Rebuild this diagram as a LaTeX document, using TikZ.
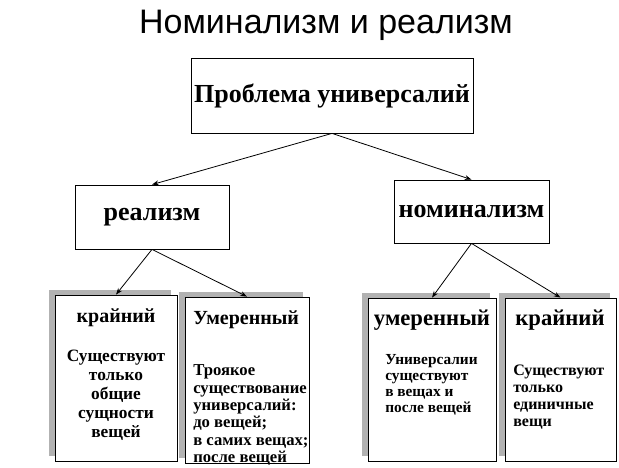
\documentclass[tikz,border=0pt]{standalone}
\usepackage{fontspec}
\setmainfont{Liberation Serif}
\newfontfamily\titlefont{Liberation Sans}
\usetikzlibrary{arrows.meta}
\usetikzlibrary{backgrounds}

\tikzset{
  box/.style={draw=black, fill=white, line width=0.6pt, inner sep=0pt},
  head/.style={font=\bfseries\fontsize{19.5}{22}\selectfont, inner sep=0.75pt},
  sub/.style={font=\bfseries\fontsize{15}{17}\selectfont, inner sep=0.75pt},
  body/.style={inner sep=0.75pt},
  link/.style={line width=0.6pt, -{Stealth[length=5pt,width=3.6pt]}},
  shade/.style={fill=black!30}
}

\begin{document}
\begin{tikzpicture}[x=0.75pt,y=0.75pt,yscale=-1,xscale=1]
\useasboundingbox (0,0) rectangle (619,468);

% Title
\node [anchor=base, inner sep=0pt, font=\titlefont\fontsize{25.5}{28}\selectfont] (title) at (326,33) {Номинализм и реализм};

% Upper boxes
\node [box, head, minimum width=211.5pt, minimum height=56.25pt] (problem) at (332,95.5) {Проблема универсалий};
\node [box, head, minimum width=115.5pt, minimum height=48pt] (realism) at (152,217) {реализм};
\node [box, head, minimum width=116.25pt, minimum height=47.25pt] (nominal) at (471.5,211.5) {номинализм};

% Lower boxes
\node [box, minimum width=91.5pt, minimum height=124.5pt] (rextreme) at (116,378) {};
\node [box, minimum width=93pt, minimum height=124.5pt] (rmoderate) at (247,380) {};
\node [box, minimum width=96pt, minimum height=122.25pt] (nmoderate) at (432,379.5) {};
\node [box, minimum width=83.25pt, minimum height=122.25pt] (nextreme) at (560.5,379.5) {};

% Shadows
\begin{scope}[on background layer]
\foreach \b in {rextreme,rmoderate,nmoderate,nextreme}
  \fill [shade] ([shift={(-6,-5)}]\b.north west) rectangle ([shift={(-6,-5)}]\b.south east);
\end{scope}

% Connectors
\draw [link] (problem.south) -- (realism.north);
\draw [link] (problem.south) -- (nominal.north);
\draw [link] (realism.south) -- (rextreme.north);
\draw [link] (realism.south) -- (rmoderate.north);
\draw [link] (nominal.south) -- (nmoderate.north);
\draw [link] (nominal.south) -- (nextreme.north);

% Text Node
\node [sub] (rextremehead) at (116,318) {крайний};
\node [body, align=center, font=\bfseries\fontsize{13}{14.25}\selectfont] (rextremetext) at (116,395) {Существуют\\только\\общие\\сущности\\вещей};
% Text Node
\node [sub, anchor=west] (rmoderatehead) at (192,320) {Умеренный};
\node [body, align=left, anchor=west, font=\bfseries\fontsize{12.5}{13}\selectfont] (rmoderatetext) at (192,415) {Троякое\\существование\\универсалий:\\до вещей;\\в самих вещах;\\после вещей};
% Text Node
\node [sub, font=\bfseries\fontsize{17}{19}\selectfont] (nmoderatehead) at (432,320) {умеренный};
\node [body, align=left, anchor=west, font=\bfseries\fontsize{11.5}{12}\selectfont] (nmoderatetext) at (384,385) {Универсалии\\существуют\\в вещах и\\после вещей};
% Text Node
\node [sub, font=\bfseries\fontsize{17}{19}\selectfont] (nextremehead) at (560,320) {крайний};
\node [body, align=left, anchor=west, font=\bfseries\fontsize{12}{12.75}\selectfont] (nextremetext) at (512,397.5) {Существуют\\только\\единичные\\вещи};

\end{tikzpicture}
\end{document}
